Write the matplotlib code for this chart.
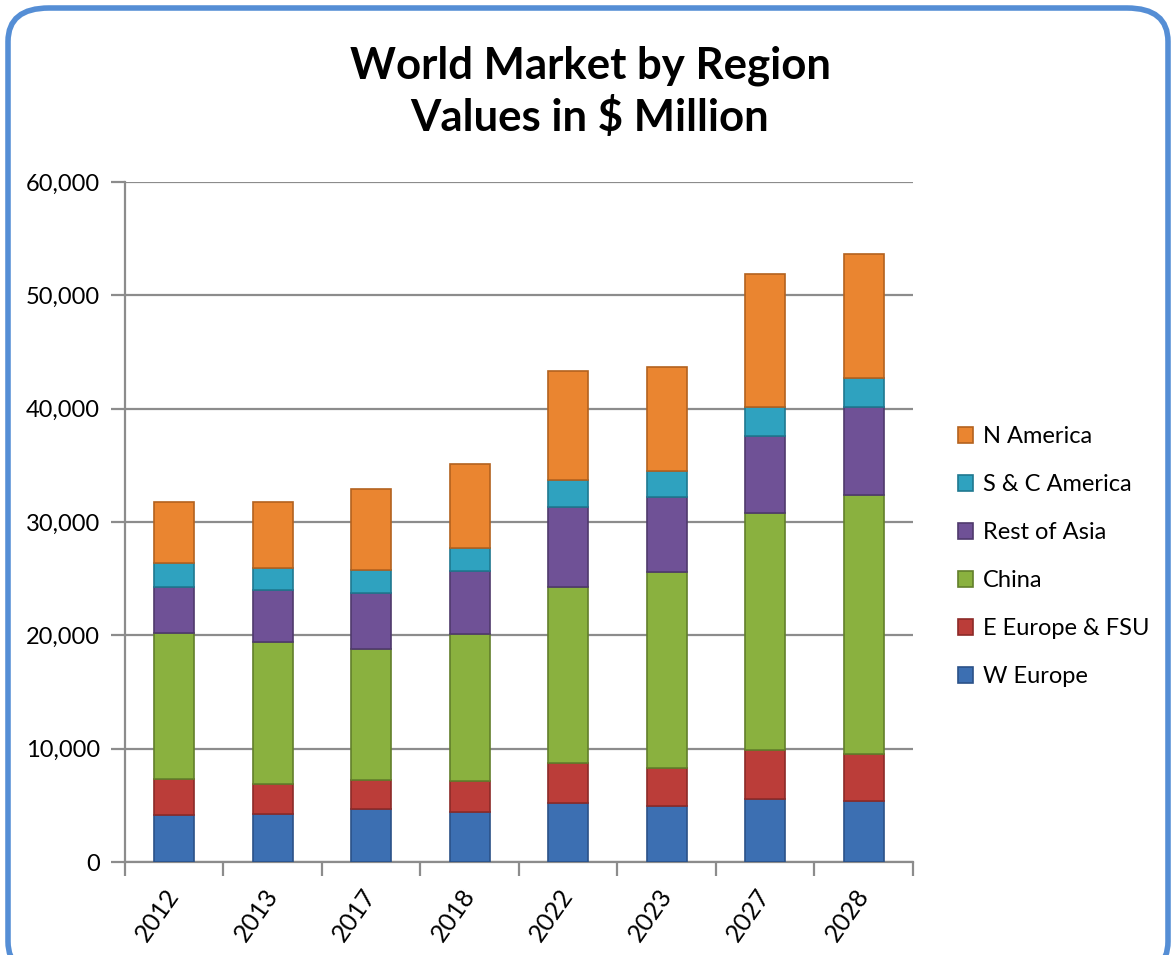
import numpy as np
import matplotlib
matplotlib.use("Agg")
import matplotlib.pyplot as plt
import matplotlib.transforms as mtransforms
from matplotlib.patches import FancyBboxPatch
from matplotlib.ticker import FuncFormatter, FixedLocator

years = ["2012", "2013", "2017", "2018", "2022", "2023", "2027", "2028"]
regions = ["W Europe", "E Europe & FSU", "China", "Rest of Asia", "S & C America", "N America"]

w_europe = [4150, 4200, 4650, 4430, 5240, 4940, 5600, 5400]
e_europe = [3180, 2650, 2590, 2740, 3520, 3380, 4280, 4100]
china = [12900, 12590, 11560, 12950, 15480, 17240, 20880, 22880]
rest_asia = [4060, 4560, 4960, 5580, 7120, 6680, 6830, 7740]
sc_america = [2070, 1910, 2010, 1980, 2350, 2290, 2590, 2560]
n_america = [5410, 5860, 7140, 7440, 9650, 9120, 11670, 10970]

series = [w_europe, e_europe, china, rest_asia, sc_america, n_america]
colors = ["#3c6fb2", "#bb3d39", "#8ab13f", "#6f5196", "#2fa2bf", "#ea8530"]
edges = ["#2b5288", "#8c2a27", "#627f2b", "#4f3a6c", "#1f7890", "#b3621f"]

plt.rcParams["font.family"] = ["Lato", "DejaVu Sans"]

fig = plt.figure(figsize=(11.71, 9.55), dpi=100)

# rounded blue frame
frame = FancyBboxPatch((8 / 1171, -20 / 955), 1160 / 1171, 967 / 955,
                       boxstyle="round,pad=0,rounding_size=0.035",
                       transform=fig.transFigure, facecolor="white",
                       edgecolor="#558ed5", linewidth=4, zorder=-10)
fig.patches.append(frame)

ax = fig.add_axes([125 / 1171, 93 / 955, 788 / 1171, 680 / 955])
ax.set_facecolor("none")
ax.set_zorder(5)

x = np.arange(len(years))
bottom = np.zeros(len(years))
for vals, name, c, ec in zip(series, regions, colors, edges):
    ax.bar(x, vals, width=0.41, bottom=bottom, color=c, edgecolor=ec,
           linewidth=1.2, label=name, zorder=3)
    bottom += np.array(vals)

ax.set_xlim(-0.5, len(years) - 0.5)
ax.set_ylim(0, 60000)
ax.set_yticks(np.arange(0, 60001, 10000))
ax.yaxis.set_major_formatter(FuncFormatter(lambda v, p: f"{int(v):,}"))
ax.grid(axis="y", color="#8c8c8c", linewidth=1.6, zorder=0)
ax.set_axisbelow(True)

ax.set_xticks(x)
ax.set_xticklabels(years, rotation=55, ha="right", va="center", rotation_mode="anchor")
shift = mtransforms.ScaledTranslation(8 / 100, 0, fig.dpi_scale_trans)
for lbl in ax.get_xticklabels():
    lbl.set_transform(lbl.get_transform() + shift)
ax.xaxis.set_minor_locator(FixedLocator(np.arange(-0.5, len(years), 1)))
ax.tick_params(axis="x", which="major", length=0, pad=21, labelsize=18)
ax.tick_params(axis="x", which="minor", length=10, width=1.6, color="#8c8c8c")
ax.tick_params(axis="y", length=10, width=1.6, color="#8c8c8c", labelsize=17, pad=8)

for s in ["top", "right"]:
    ax.spines[s].set_visible(False)
for s in ["left", "bottom"]:
    ax.spines[s].set_color("#8c8c8c")
    ax.spines[s].set_linewidth(1.6)

fig.text(590 / 1171, (955 - 92) / 955, "World Market by Region\nValues in $ Million",
         ha="center", va="center", fontsize=31.5, fontweight="bold", linespacing=1.3)

handles, labels = ax.get_legend_handles_labels()
leg = ax.legend(handles[::-1], labels[::-1], loc="center left",
                bbox_to_anchor=(1.03, 0.449), frameon=False, fontsize=17,
                handlelength=0.65, handleheight=0.65, handletextpad=0.4,
                labelspacing=1.14)

fig.savefig("out.png", dpi=100)
